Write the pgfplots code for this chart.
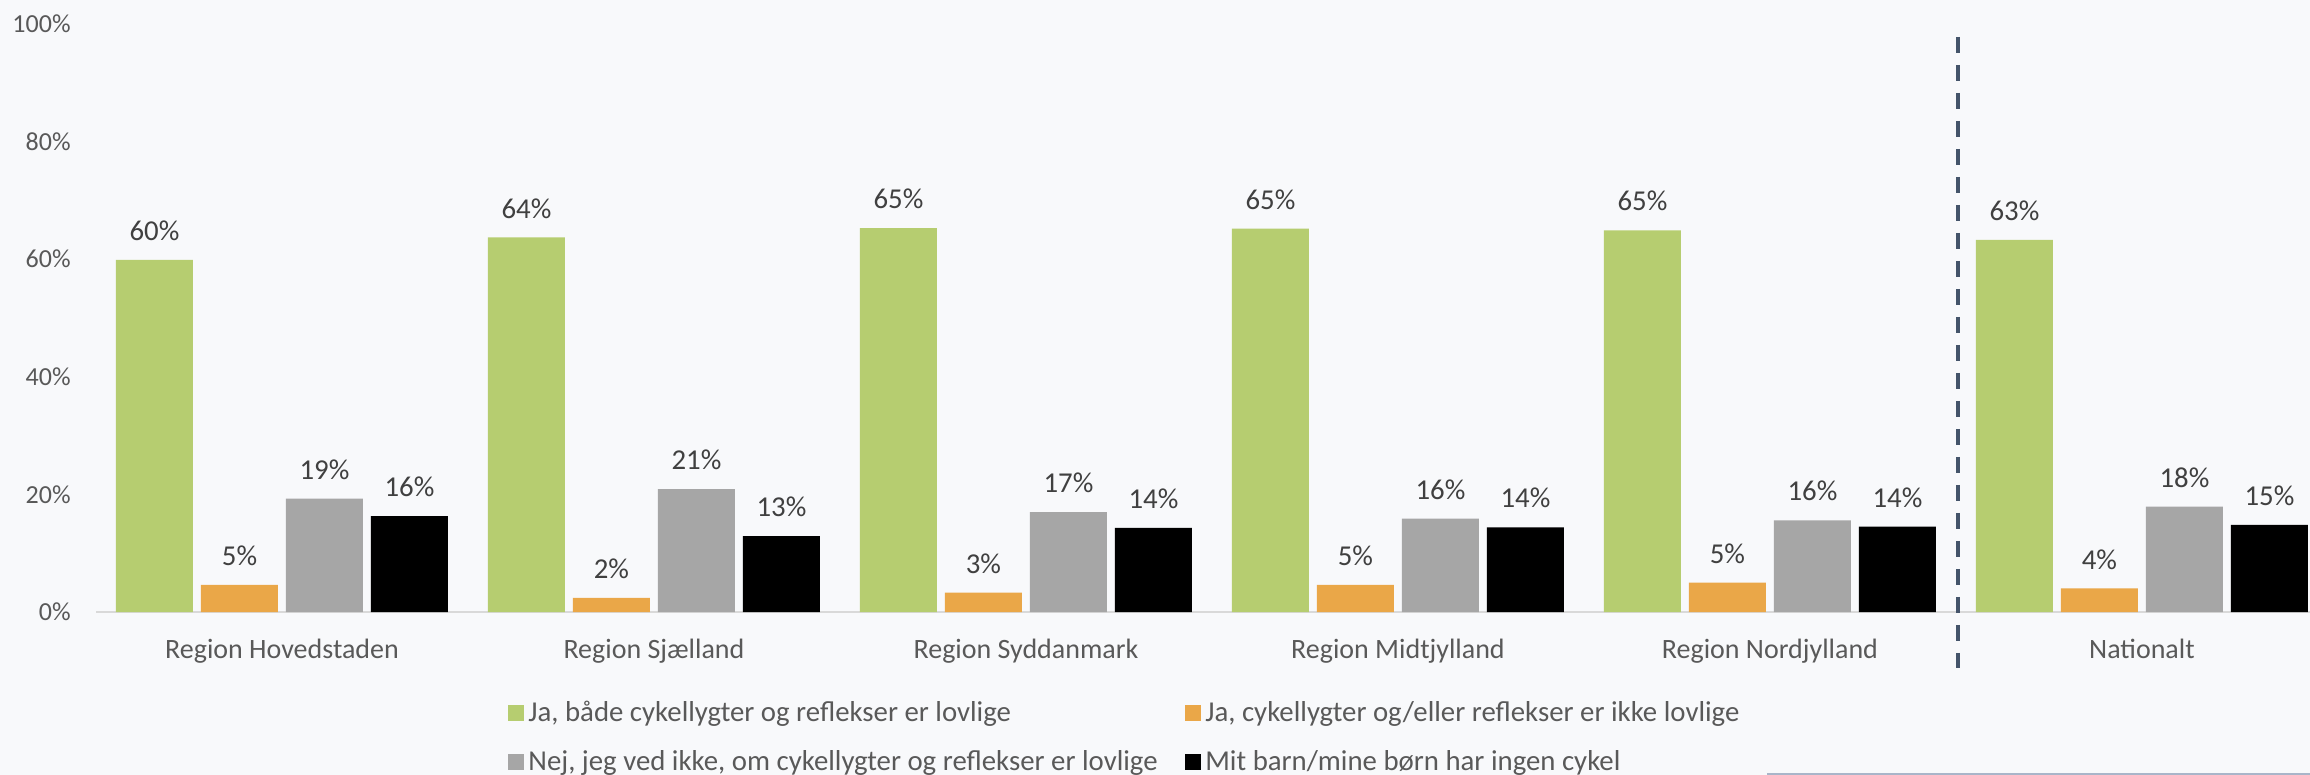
\documentclass[border=0pt]{standalone}
\usepackage{fontspec}
\setmainfont{Carlito}
\usepackage{pgfplots}
\usepackage{pgfplotstable}
\pgfplotsset{compat=1.18}
\definecolor{bg}{HTML}{F8F9FB}
\definecolor{cgreen}{HTML}{B6CD70}
\definecolor{corange}{HTML}{EAA748}
\definecolor{cgray}{HTML}{A6A6A6}
\definecolor{cblack}{HTML}{000000}
\definecolor{axisc}{HTML}{D9D9D9}
\definecolor{tickc}{HTML}{595959}
\definecolor{labc}{HTML}{404040}
\definecolor{sepc}{HTML}{44546A}
\definecolor{bline}{HTML}{A9B5C9}

\pgfplotstableread{
x y lab
0 59.9 60
1 63.7 64
2 65.3 65
3 65.2 65
4 64.9 65
5 63.3 63
}\tgreen
\pgfplotstableread{
x y lab
0 4.6 5
1 2.4 2
2 3.3 3
3 4.6 5
4 5.0 5
5 4.0 4
}\torange
\pgfplotstableread{
x y lab
0 19.3 19
1 20.9 21
2 17.0 17
3 15.9 16
4 15.6 16
5 17.9 18
}\tgray
\pgfplotstableread{
x y lab
0 16.3 16
1 12.9 13
2 14.3 14
3 14.4 14
4 14.5 14
5 14.8 15
}\tblack

\begin{document}
\begin{tikzpicture}
\fill[bg] (0,0) rectangle (1155bp,387.5bp);
\fill[bline] (883.5bp,0) rectangle (1155bp,1bp);
\begin{axis}[
  at={(48bp,81.5bp)}, anchor=south west,
  scale only axis, width=1107bp, height=294bp,
  xmin=-0.5, xmax=5.452, ymin=0, ymax=100,
  ybar, bar width=38.5bp,
  axis lines=left,
  y axis line style={draw=none},
  x axis line style={draw=axisc, line width=1bp, -},
  major tick length=0pt,
  tick style={draw=none},
  ytick={0,20,...,100},
  yticklabel={\pgfmathprintnumber{\tick}\%},
  /pgf/number format/assume math mode=true,
  yticklabel style={font=\fontsize{13bp}{15bp}\selectfont, text=tickc, anchor=east, inner sep=0pt, xshift=-12.5bp},
  xtick={0,1,2,3,4,5},
  xticklabels={Region Hovedstaden, Region Sjælland, Region Syddanmark, Region Midtjylland, Region Nordjylland, Nationalt},
  xticklabel style={font=\fontsize{14bp}{16bp}\selectfont, text=tickc, anchor=base, inner sep=0pt, yshift=-23bp},
  clip=false,
  point meta=explicit,
  nodes near coords={\pgfmathprintnumber{\pgfplotspointmeta}\%},
  nodes near coords style={font=\fontsize{14.4bp}{16bp}\selectfont, text=labc, anchor=south, inner sep=0pt, text depth=0pt, yshift=9.5bp},
  legend columns=2,
  legend cell align=left,
  legend style={at={(0.1861,-0.144)}, anchor=north west, draw=none, fill=none, inner sep=0pt,
    font=\fontsize{14.4bp}{16bp}\selectfont, text=tickc, row sep=9.2bp,
    /tikz/every even column/.append style={column sep=12bp}},
  sq/.style={legend image code/.code={\fill[##1] (0bp,-4bp) rectangle (8bp,4bp);}},
]
\addplot[fill=cgreen, draw=none, bar shift=-63.75bp, sq] table[x=x,y=y,meta=lab]{\tgreen};
\addlegendentry{Ja, både cykellygter og reflekser er lovlige}
\addplot[fill=corange, draw=none, bar shift=-21.25bp, sq] table[x=x,y=y,meta=lab]{\torange};
\addlegendentry{Ja, cykellygter og/eller reflekser er ikke lovlige}
\addplot[fill=cgray, draw=none, bar shift=21.25bp, sq] table[x=x,y=y,meta=lab]{\tgray};
\addlegendentry{Nej, jeg ved ikke, om cykellygter og reflekser er lovlige}
\addplot[fill=cblack, draw=none, bar shift=63.75bp, sq] table[x=x,y=y,meta=lab]{\tblack};
\addlegendentry{Mit barn/mine børn har ingen cykel}
\draw[sepc, line width=2.25bp, dash pattern=on 8bp off 6bp] (axis cs:4.506,97.8) -- (axis cs:4.506,-9.5);
\end{axis}
\pgfresetboundingbox
\useasboundingbox (0,0) rectangle (1155bp,387.5bp);
\end{tikzpicture}
\end{document}
